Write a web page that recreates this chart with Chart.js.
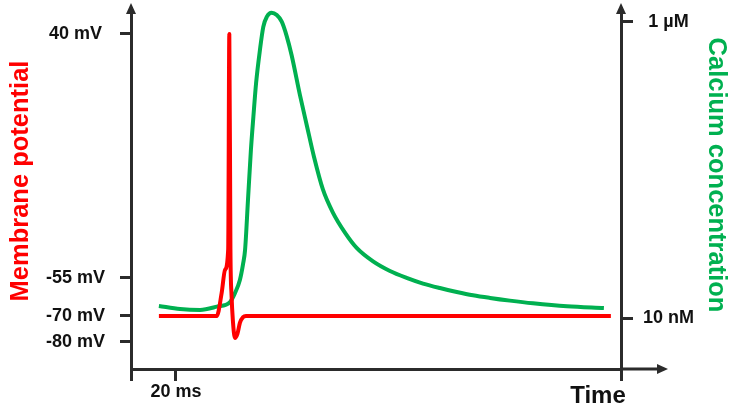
<!DOCTYPE html>
<html>
<head>
<meta charset="utf-8">
<script src="https://cdn.jsdelivr.net/npm/chart.js@4.4.1/dist/chart.umd.min.js"></script>
<style>
  html, body { margin: 0; padding: 0; background: #ffffff; }
  #wrap { width: 733px; height: 408px; }
</style>
</head>
<body>
<div id="wrap"><canvas id="c" width="733" height="408"></canvas></div>
<script>
// ---- data ----
// Membrane potential trace: time (ms) and voltage (mV)
const redTime    = [12.4, 38.1, 40.3, 41.8, 43.2, 43.7, 44.2, 44.7, 45.3, 46.2, 47.3, 48.4, 49.8, 51.1, 213.3];
const redVoltage = [-70, -70, -61, -52, -44, 40, -44, -62, -72, -78.6, -77, -72.7, -70.4, -70, -70];

// Calcium concentration trace: time (ms) and concentration (nM)
const caTime = [12.4, 21.8, 30.7, 38.2, 44.0, 46.2, 48.4, 49.8, 50.7, 52.0, 53.3, 54.4, 55.6, 57.3, 58.8,
                60.4, 62.5, 64.8, 67.0, 69.2, 71.4, 75.1, 78.2, 81.3, 85.3, 89.8, 95.1, 100.3, 107.6, 115.1,
                122.5, 129.8, 137.3, 144.8, 152.0, 159.6, 168.4, 178.7, 193.8, 210.2];
const caConc = [51, 41, 38, 49, 64, 94, 138, 191, 238, 405, 572, 683, 795, 905, 983,
                1017, 1030, 1022, 1000, 952, 888, 755, 652, 550, 440, 362, 296, 245, 200, 168,
                145, 126, 111, 98, 87, 78, 69, 60, 50, 44];

// Tick values and labels
const timeTicks    = [0, 20, 217.8];
const timeLabels   = ['', '20 ms', ''];
const voltTicks    = [40, -55, -70, -80];
const voltLabels   = ['40 mV', '-55 mV', '-70 mV', '-80 mV'];
const caTicks      = [1000, 10];
const caLabels     = ['1 µM', '10 nM'];

// Axis titles
const xTitle  = 'Time';
const yTitle  = 'Membrane potential';
const y2Title = 'Calcium concentration';

// ---- styling ----
const RED = '#ff0000';
const GREEN = '#00b050';
const AXIS = '#2b2b2b';
const FONT = "'Liberation Sans', Arial, Helvetica, sans-serif";

Chart.defaults.font.family = FONT;

function labelFor(values, labels) {
  return function (v) {
    const i = values.findIndex(t => Math.abs(t - v) < 1e-6);
    return i >= 0 ? labels[i] : '';
  };
}

const overlay = {
  id: 'overlay',
  afterDraw(chart) {
    const { ctx, chartArea: a } = chart;
    ctx.save();
    ctx.fillStyle = AXIS;
    ctx.strokeStyle = AXIS;
    ctx.lineWidth = 3;
    // extend x axis line to the arrow
    ctx.beginPath();
    ctx.moveTo(a.right, a.bottom);
    ctx.lineTo(a.right + 38, a.bottom);
    ctx.stroke();
    // arrow heads
    const tri = (p1, p2, p3) => {
      ctx.beginPath();
      ctx.moveTo(p1[0], p1[1]); ctx.lineTo(p2[0], p2[1]); ctx.lineTo(p3[0], p3[1]);
      ctx.closePath(); ctx.fill();
    };
    tri([a.right + 47, a.bottom], [a.right + 36, a.bottom - 5], [a.right + 36, a.bottom + 5]);
    tri([a.left, a.top - 5], [a.left - 5, a.top + 6], [a.left + 5, a.top + 6]);
    tri([a.right, a.top - 5], [a.right - 5, a.top + 6], [a.right + 5, a.top + 6]);

    // axis titles
    ctx.textAlign = 'center';
    ctx.textBaseline = 'alphabetic';
    ctx.font = 'bold 25.5px ' + FONT;
    ctx.fillStyle = RED;
    ctx.save();
    ctx.translate(28, 181);
    ctx.rotate(-Math.PI / 2);
    ctx.fillText(yTitle, 0, 0);
    ctx.restore();

    ctx.fillStyle = GREEN;
    ctx.save();
    ctx.translate(709, 175);
    ctx.rotate(Math.PI / 2);
    ctx.fillText(y2Title, 0, 0);
    ctx.restore();

    ctx.fillStyle = '#111111';
    ctx.font = 'bold 24px ' + FONT;
    ctx.fillText(xTitle, 598, 403);
    ctx.restore();
  }
};

const tickFont = { size: 18, weight: 'bold', family: FONT };

new Chart(document.getElementById('c'), {
  type: 'line',
  data: {
    datasets: [
      {
        label: 'Membrane potential',
        data: redTime.map((t, i) => ({ x: t, y: redVoltage[i] })),
        borderColor: RED,
        borderWidth: 4,
        pointRadius: 0,
        cubicInterpolationMode: 'monotone',
        borderJoinStyle: 'round',
        yAxisID: 'y',
        fill: false
      },
      {
        label: 'Calcium concentration',
        data: caTime.map((t, i) => ({ x: t, y: caConc[i] })),
        borderColor: GREEN,
        borderWidth: 4,
        pointRadius: 0,
        cubicInterpolationMode: 'monotone',
        borderJoinStyle: 'round',
        yAxisID: 'y2',
        fill: false
      }
    ]
  },
  options: {
    responsive: false,
    animation: false,
    devicePixelRatio: 1,
    layout: { padding: { top: 8, left: 0, right: 0, bottom: 0 } },
    plugins: { legend: { display: false }, tooltip: { enabled: false } },
    scales: {
      x: {
        type: 'linear',
        min: 0,
        max: 217.8,
        afterBuildTicks: s => { s.ticks = timeTicks.map(v => ({ value: v })); },
        afterFit: s => { s.height = 39; s.paddingLeft = 0; s.paddingRight = 0; },
        ticks: {
          autoSkip: false, maxRotation: 0, padding: 0,
          color: '#111111', font: tickFont,
          callback: labelFor(timeTicks, timeLabels)
        },
        grid: { drawOnChartArea: false, drawTicks: true, tickLength: 12, color: AXIS, lineWidth: 3 },
        border: { display: true, color: AXIS, width: 3 }
      },
      y: {
        type: 'linear',
        position: 'left',
        min: -90.68,
        max: 50.14,
        afterBuildTicks: s => { s.ticks = voltTicks.map(v => ({ value: v })); },
        afterFit: s => { s.width = 131; s.paddingTop = 0; s.paddingBottom = 0; },
        ticks: {
          autoSkip: false, padding: 15, crossAlign: 'center',
          color: '#111111', font: tickFont,
          callback: labelFor(voltTicks, voltLabels)
        },
        grid: { drawOnChartArea: false, drawTicks: true, tickLength: 11, color: AXIS, lineWidth: 3 },
        border: { display: true, color: AXIS, width: 3 }
      },
      y2: {
        type: 'linear',
        position: 'right',
        min: -159.2,
        max: 1045.7,
        afterBuildTicks: s => { s.ticks = caTicks.map(v => ({ value: v })); },
        afterFit: s => { s.width = 112; s.paddingTop = 0; s.paddingBottom = 0; },
        ticks: {
          autoSkip: false, padding: 10, crossAlign: 'center',
          color: '#111111', font: tickFont,
          callback: labelFor(caTicks, caLabels)
        },
        grid: { drawOnChartArea: false, drawTicks: true, tickLength: 12, color: AXIS, lineWidth: 3 },
        border: { display: true, color: AXIS, width: 3 }
      }
    }
  },
  plugins: [overlay]
});
</script>
</body>
</html>
